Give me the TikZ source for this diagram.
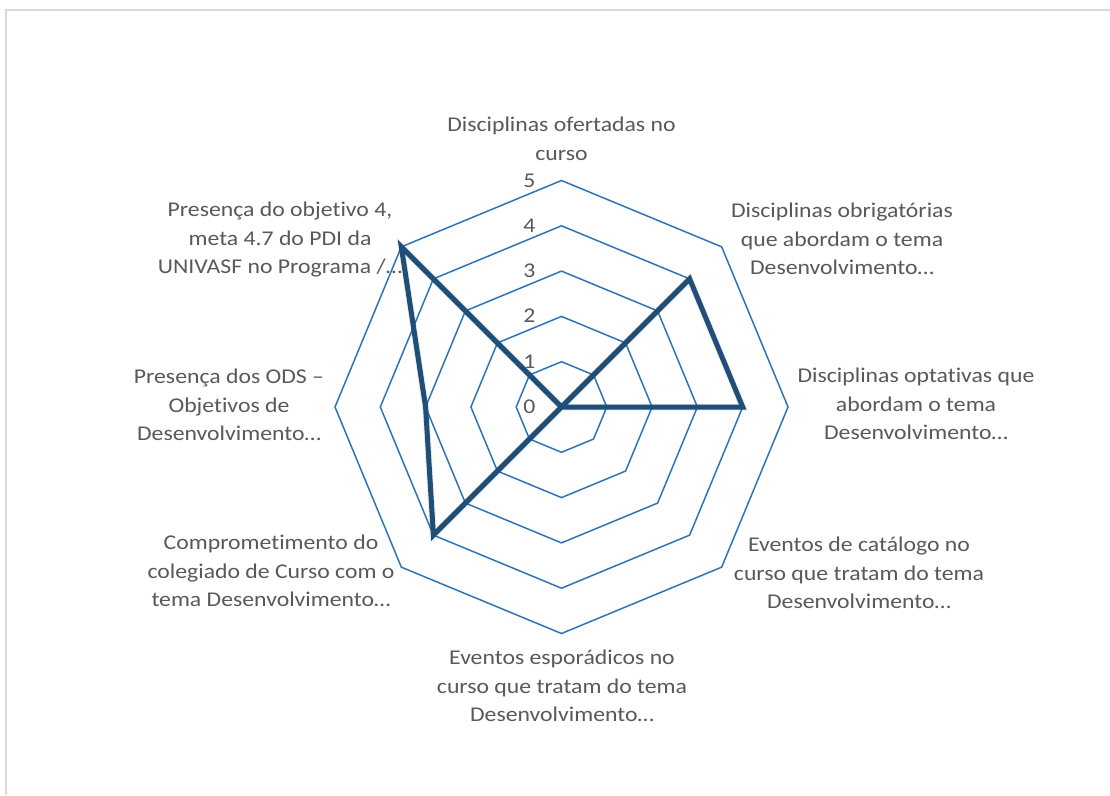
\documentclass[tikz,border=0pt]{standalone}
\usepackage{fontspec}
\newfontfamily\lblfont[FakeStretch=1.13,Ligatures=NoCommon]{Carlito}
\usetikzlibrary{calc}
\definecolor{gridblue}{HTML}{2E75B6}
\definecolor{datablue}{HTML}{1F4E79}
\definecolor{txtgray}{HTML}{595959}
\definecolor{framegray}{HTML}{D9D9D9}
\tikzset{
  gridline/.style={draw=gridblue, line width=1.5pt, line join=miter},
  dataline/.style={draw=datablue, line width=5pt, line join=miter, line cap=round},
  shadowline/.style={draw=black, line join=miter, line cap=round},
  axislbl/.style={font=\lblfont\fontsize{21}{28.5}\selectfont, text=txtgray, align=center, inner sep=0pt, anchor=north},
  numlbl/.style={font=\lblfont\fontsize{21}{25}\selectfont, text=txtgray, inner sep=0pt, anchor=base east},
}
\begin{document}
\begin{tikzpicture}[x=1pt,y=-1pt]
\useasboundingbox (0,0) rectangle (1110,795);
\fill[white] (0,0) rectangle (1110,795);
% frame
\draw[framegray, line width=2pt] (6,795) -- (6,10) -- (1110,10);
\coordinate (C) at (561.5,407);
% grid octagons
\foreach \k in {1,...,5}{
  \draw[gridline] ($(C)+(-90:{\k*45.3})$) \foreach \a in {-45,0,45,90,135,180,225}{ -- ($(C)+(\a:{\k*45.3})$)} -- cycle;
}
% scale numbers
\foreach \k in {0,...,5}{
  \node[numlbl] (n\k) at ($(C)+(-26,{6.5-45.3*\k})$) {\k};
}
% data points
\coordinate (p0) at (C);
\coordinate (p1) at ($(C)+(-45:{4*45.3})$);
\coordinate (p2) at ($(C)+(0:{4*45.3})$);
\coordinate (p3) at (C);
\coordinate (p4) at (C);
\coordinate (p5) at ($(C)+(135:{4*45.3})$);
\coordinate (p6) at ($(C)+(180:{3*45.3})$);
\coordinate (p7) at ($(C)+(225:{5*45.3})$);
% shadow
\begin{scope}[shift={(3,4)}]
  \draw[shadowline, opacity=0.07, line width=7pt] (p0) -- (p1) -- (p2) -- (p3) -- (p4) -- (p5) -- (p6) -- (p7) -- cycle;
  \draw[shadowline, opacity=0.10, line width=4.5pt] (p0) -- (p1) -- (p2) -- (p3) -- (p4) -- (p5) -- (p6) -- (p7) -- cycle;
\end{scope}
\draw[dataline] (p0) -- (p1) -- (p2) -- (p3) -- (p4) -- (p5) -- (p6) -- (p7) -- cycle;
% axis labels
\node[axislbl] (l0) at (561.5,117) {Disciplinas ofertadas no\\curso};
\node[axislbl] (l1) at (842,203) {Disciplinas obrigatórias\\que abordam o tema\\Desenvolvimento…};
\node[axislbl] (l2) at (916,368) {Disciplinas optativas que\\abordam o tema\\Desenvolvimento…};
\node[axislbl] (l3) at (859,537) {Eventos de catálogo no\\curso que tratam do tema\\Desenvolvimento…};
\node[axislbl] (l4) at (562,650) {Eventos esporádicos no\\curso que tratam do tema\\Desenvolvimento…};
\node[axislbl] (l5) at (271,535) {Comprometimento do\\colegiado de Curso com o\\tema Desenvolvimento…};
\node[axislbl] (l6) at (229,369) {Presença dos ODS –\\Objetivos de\\Desenvolvimento…};
\node[axislbl] (l7) at (280,202) {Presença do objetivo 4,\\meta 4.7 do PDI da\\UNIVASF no Programa /…};
\end{tikzpicture}
\end{document}
